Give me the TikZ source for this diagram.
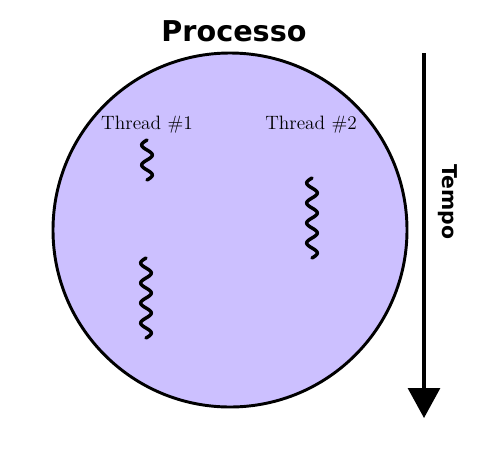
\documentclass[tikz,border=0pt]{standalone}
\usepackage{fontspec}
\newfontfamily\titlefont{DejaVu Sans}
\usetikzlibrary{arrows.meta}
\definecolor{procfill}{RGB}{204,192,255}
\tikzset{
  squig/.style={line width=2.6pt, line cap=round, black},
  thlabel/.style={font=\fontsize{14.5}{16}\selectfont, inner sep=0pt},
}
\begin{document}
\begin{tikzpicture}[x=0.75pt, y=-0.75pt]
\useasboundingbox (0,0) rectangle (481,457);
\node[circle, draw=black, fill=procfill, line width=2.2pt, minimum size=354*0.75pt, inner sep=0pt] (proc) at (230,230) {};
\node[font=\titlefont\bfseries\fontsize{21.5}{24}\selectfont, inner sep=0pt] (title) at (234,31) {Processo};
\node[thlabel] (t1) at (147,125) {Thread \#1};
\node[thlabel] (t2) at (311,125) {Thread \#2};
\draw[squig] plot[domain=0:40, samples=60, smooth] ({147-5.3*sin(\x*18)}, {140+\x});
\draw[squig] plot[domain=0:80, samples=120, smooth] ({146-5.3*sin(\x*18)}, {258+\x});
\draw[squig] plot[domain=0:80, samples=120, smooth] ({312-5.3*sin(\x*18)}, {178+\x});
\coordinate (ts) at (424,53);
\coordinate (te) at (424,418);
\draw[line width=2.3pt, -{Triangle[length=30*0.75pt, width=32*0.75pt]}] (ts) -- (te);
\node[font=\titlefont\bfseries\fontsize{15.3}{18}\selectfont, rotate=-90, inner sep=0pt] (tempo) at (448,202) {Tempo};
\end{tikzpicture}
\end{document}
